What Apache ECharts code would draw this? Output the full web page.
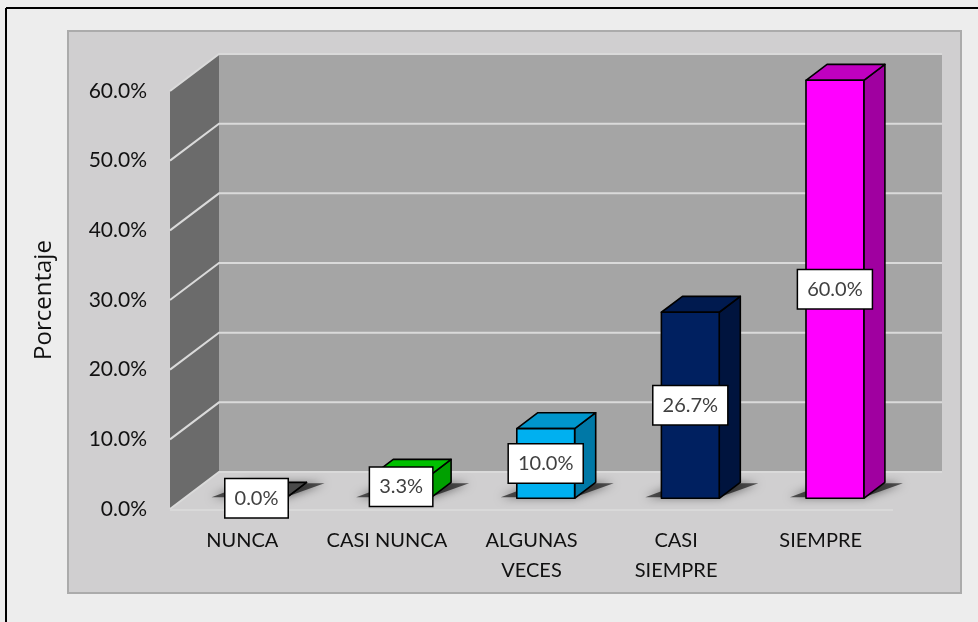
<!DOCTYPE html>
<html>
<head>
<meta charset="utf-8">
<script src="https://cdn.jsdelivr.net/npm/echarts@6/dist/echarts.min.js"></script>
<style>
  html, body { margin: 0; padding: 0; background: #ededed; }
  #chart { width: 978px; height: 622px; }
</style>
</head>
<body>
<div id="chart"></div>
<script>
// Survey answers and their share of responses
const categories = ['NUNCA', 'CASI NUNCA', 'ALGUNAS\nVECES', 'CASI\nSIEMPRE', 'SIEMPRE'];
const percentages = [0.0, 3.3, 10.0, 26.7, 60.0];
const yTicks = [0, 10, 20, 30, 40, 50, 60];

// Face colours for each column (front, top, side)
const frontColors = ['#595959', '#00b400', '#00b0f0', '#002060', '#ff00ff'];
const topColors   = ['#4a4a4a', '#00c000', '#0096cc', '#001a4f', '#c000c0'];
const sideColors  = ['#3a3a3a', '#00a000', '#0078a6', '#00143e', '#a000a0'];

// Pseudo-3D depth of the chart box (back wall offset) and of the columns
const DX = 49, DY = -37;
const F0 = 0.29, F1 = 0.72;   // column front / back as fraction of the depth
const FONT = 'Lato, "Open Sans", sans-serif';

const chart = echarts.init(document.getElementById('chart'));

function renderWalls(params, api) {
  const cs = params.coordSys;
  const L = cs.x, R = cs.x + cs.width;
  const B = api.coord([0, yTicks[0]])[1];
  const T = api.coord([0, yTicks[yTicks.length - 1]])[1];
  const y = api.coord([0, api.value(1)])[1];
  const children = [];
  if (params.dataIndex === 0) {
    children.push({ type: 'polygon', shape: { points: [[L + DX, T + DY], [R + DX, T + DY], [R + DX, B + DY], [L + DX, B + DY]] },
      style: { fill: '#a5a5a5' } });
    children.push({ type: 'polygon', shape: { points: [[L, B], [L + DX, B + DY], [L + DX, T + DY], [L, T]] },
      style: { fill: '#6b6b6b' } });
    children.push({ type: 'polygon', shape: { points: [[L, B], [L + DX, B + DY], [R + DX, B + DY], [R, B]] },
      style: { fill: '#d0cfd0' } });
    children.push({ type: 'line', shape: { x1: L, y1: B + 1, x2: R, y2: B + 1 },
      style: { stroke: '#dcdcdc', lineWidth: 1.5 } });
  }
  children.push({ type: 'polyline', shape: { points: [[L, y], [L + DX, y + DY], [R + DX, y + DY]] },
    style: { stroke: '#dadada', lineWidth: 2, fill: null } });
  return { type: 'group', children: children };
}

function renderColumn(params, api) {
  const i = api.value(0);
  const v = api.value(1);
  const top = api.coord([i, v]);
  const base = api.coord([i, 0]);
  const bw = api.size([1, 0])[0] * 0.4;
  const xl = top[0] - bw / 2 + DX * F0;
  const xr = xl + bw;
  const yb = base[1] + DY * F0;
  const yt = top[1] + DY * F0;
  const ddx = DX * (F1 - F0), ddy = DY * (F1 - F0);
  const edge = { stroke: '#000', lineWidth: 1.6, lineJoin: 'round' };
  return {
    type: 'group',
    children: [
      // soft contact shadow on the floor
      { type: 'polygon',
        shape: { points: [[xl - 16, yb - 1], [xr, yb - 1], [xr + ddx + 18, yb + ddy + 1], [xl + ddx, yb + ddy + 1]] },
        style: { fill: 'rgba(0,0,0,0.6)', shadowBlur: 10, shadowColor: 'rgba(0,0,0,0.9)' } },
      { type: 'polygon',
        shape: { points: [[xr, yb], [xr + ddx, yb + ddy], [xr + ddx, yt + ddy], [xr, yt]] },
        style: Object.assign({ fill: sideColors[i] }, edge) },
      { type: 'polygon',
        shape: { points: [[xl, yt], [xr, yt], [xr + ddx, yt + ddy], [xl + ddx, yt + ddy]] },
        style: Object.assign({ fill: topColors[i] }, edge) },
      { type: 'rect',
        shape: { x: xl, y: yt, width: bw, height: yb - yt },
        style: Object.assign({ fill: frontColors[i] }, edge) },
      { type: 'text', x: (xl + xr) / 2, y: (yb + yt) / 2,
        style: { text: v.toFixed(1) + '%', fill: '#404040', fontSize: 20, fontFamily: FONT,
          align: 'center', verticalAlign: 'middle', lineHeight: 24,
          backgroundColor: '#ffffff', borderColor: '#000000', borderWidth: 1.5, padding: [7, 9] } }
    ]
  };
}

chart.setOption({
  backgroundColor: '#ededed',
  animation: false,
  graphic: [
    { type: 'rect', z: 0, shape: { x: 68, y: 31, width: 893, height: 562 },
      style: { fill: '#d0cfd0', stroke: '#ababab', lineWidth: 2 } },
    { type: 'line', z: 0, shape: { x1: 6, y1: 8, x2: 978, y2: 8 }, style: { stroke: '#000', lineWidth: 2 } },
    { type: 'line', z: 0, shape: { x1: 6, y1: 8, x2: 6, y2: 622 }, style: { stroke: '#000', lineWidth: 2 } }
  ],
  grid: { left: 170, right: 85, top: 91, bottom: 113 },
  xAxis: {
    type: 'category',
    data: categories,
    axisLine: { show: false },
    axisTick: { show: false },
    axisLabel: { color: '#111', fontSize: 20, fontFamily: FONT, lineHeight: 30, margin: 17, interval: 0 }
  },
  yAxis: {
    type: 'value',
    min: 0, max: 60, interval: 10,
    name: 'Porcentaje',
    nameLocation: 'middle',
    nameRotate: 90,
    nameGap: 114,
    nameTextStyle: { color: '#111', fontSize: 24, fontFamily: '"Open Sans", sans-serif' },
    axisLine: { show: false },
    axisTick: { show: false },
    splitLine: { show: false },
    axisLabel: { color: '#111', fontSize: 21, fontFamily: FONT, margin: 23,
      formatter: function (v) { return v.toFixed(1) + '%'; } }
  },
  series: [
    { type: 'custom', z: 2, clip: false, silent: true,
      data: yTicks.map(function (t) { return [0, t]; }),
      encode: { x: 0, y: 1 },
      renderItem: renderWalls },
    { type: 'custom', z: 3, clip: false, silent: true,
      data: percentages.map(function (p, i) { return [i, p]; }),
      encode: { x: 0, y: 1 },
      renderItem: renderColumn }
  ]
});
</script>
</body>
</html>
